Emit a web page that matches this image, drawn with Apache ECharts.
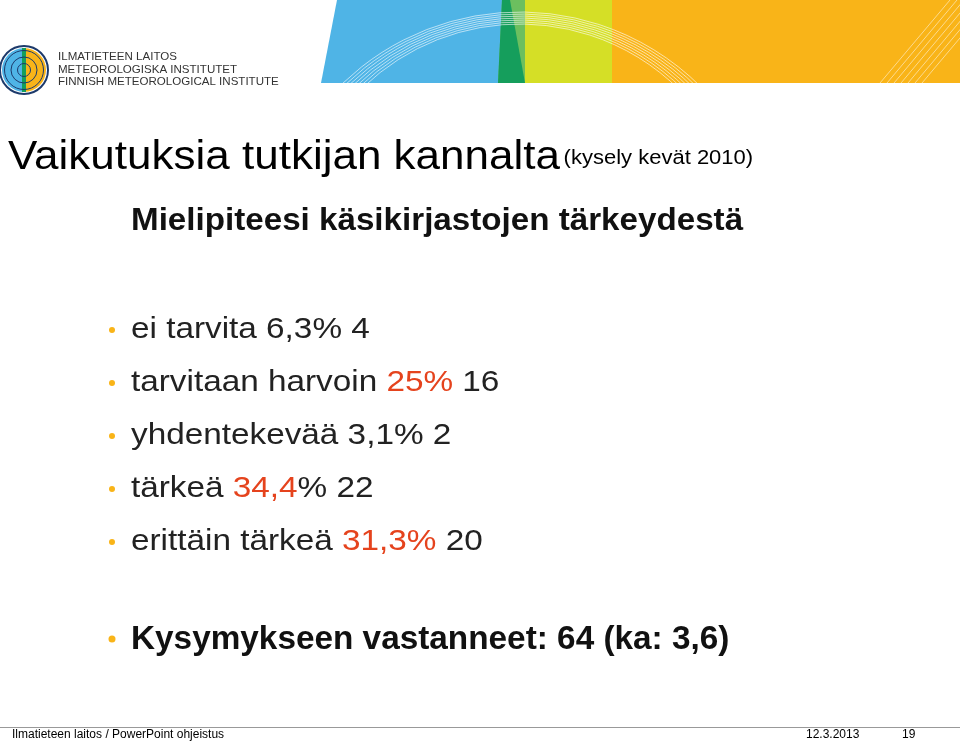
<!DOCTYPE html>
<html><head><meta charset="utf-8">
<script src="https://cdn.jsdelivr.net/npm/echarts@6/dist/echarts.min.js"></script>
<style>html,body{margin:0;padding:0;background:#fff}#c{width:960px;height:743px}</style>
</head><body><div id="c"></div>
<script>
const categories = ['ei tarvita', 'tarvitaan harvoin', 'yhdentekevää', 'tärkeä', 'erittäin tärkeä'];
const percents = ['6,3%', '25%', '3,1%', '34,4%', '31,3%'];
const counts = [4, 16, 2, 22, 20];
const redParts = ['', '25%', '', '34,4', '31,3%'];
const total = 64, mean = '3,6';

const chart = echarts.init(document.getElementById('c'));
const F = 'Liberation Sans, Arial, sans-serif';
const RED = '#e5431d', TXT = '#222';
const g = [];
// banner
g.push({type:'polygon', shape:{points:[[337,0],[502,0],[502,83],[321,83]]}, style:{fill:'#4fb4e6'}});
g.push({type:'polygon', shape:{points:[[502,0],[527,0],[525,83],[498,83]]}, style:{fill:'#6cbf5f'}});
g.push({type:'polygon', shape:{points:[[502,0],[510,0],[525,83],[498,83]]}, style:{fill:'#159e5c'}});
g.push({type:'rect', shape:{x:525,y:0,width:88,height:83}, style:{fill:'#d5df26'}});
g.push({type:'rect', shape:{x:612,y:0,width:348,height:83}, style:{fill:'#f9b418'}});
const clip = {type:'rect',shape:{x:320,y:0,width:640,height:83}};
for (let i=0;i<7;i++){
  g.push({type:'arc', shape:{cx:520, cy:250+i*3, r:226+i*5, startAngle:Math.PI*1.1, endAngle:Math.PI*1.9}, style:{stroke:'rgba(255,255,255,0.6)', lineWidth:1, fill:null}, clipPath:clip});
  g.push({type:'line', shape:{x1:880+i*7,y1:83,x2:950+i*7,y2:0}, style:{stroke:'rgba(255,255,255,0.5)', lineWidth:1}});
}
// logo
g.push({type:'circle', shape:{cx:24,cy:70,r:24}, style:{fill:'#fff', stroke:'#1d3a6b', lineWidth:2}});
g.push({type:'sector', shape:{cx:24,cy:70,r:22,startAngle:Math.PI/2,endAngle:Math.PI*1.5}, style:{fill:'#4fb4e6'}});
g.push({type:'sector', shape:{cx:24,cy:70,r:22,startAngle:-Math.PI/2,endAngle:Math.PI/2}, style:{fill:'#f9b418'}});
g.push({type:'rect', shape:{x:22,y:48,width:4,height:44}, style:{fill:'#159e5c'}});
for (let i=1;i<=3;i++){ g.push({type:'circle', shape:{cx:24,cy:70,r:i*6.5}, style:{fill:null, stroke:'#1d3a6b', lineWidth:1}}); }
const logoT = ['ILMATIETEEN LAITOS','METEOROLOGISKA INSTITUTET','FINNISH METEOROLOGICAL INSTITUTE'];
logoT.forEach((t,i)=>g.push({type:'text', x:58, y:52+i*12.5, scaleX:1.1, style:{text:t, font:'10.5px '+F, fill:'#333'}}));
// title
g.push({type:'text', x:8, y:138, scaleX:1.1, style:{text:'{a|Vaikutuksia tutkijan kannalta} {b|(kysely kevät 2010)}', rich:{a:{font:'40px '+F, fill:'#000'}, b:{font:'20px '+F, fill:'#000'}}}});
g.push({type:'text', x:131, y:206, scaleX:1.07, style:{text:'Mielipiteesi käsikirjastojen tärkeydestä', font:'bold 31px '+F, fill:'#111'}});
// items
categories.forEach((c,i)=>{
  const y = 315 + i*53;
  const p = percents[i], r = redParts[i];
  let txt;
  if (r === '') txt = '{n|'+c+' '+p+' '+counts[i]+'}';
  else txt = '{n|'+c+' }{r|'+r+'}{n|'+p.slice(r.length)+' '+counts[i]+'}';
  g.push({type:'circle', shape:{cx:112, cy:y+15, r:3}, style:{fill:'#f9b418'}});
  g.push({type:'text', x:131, y:y, scaleX:1.11, style:{text:txt, rich:{n:{font:'30px '+F, fill:TXT}, r:{font:'30px '+F, fill:RED}}}});
});
g.push({type:'circle', shape:{cx:112, cy:639, r:3.5}, style:{fill:'#f9b418'}});
g.push({type:'text', x:131, y:623, scaleX:1.01, style:{text:'Kysymykseen vastanneet: '+total+' (ka: '+mean+')', font:'bold 33px '+F, fill:'#111'}});
// footer
g.push({type:'rect', shape:{x:0,y:727,width:960,height:1}, style:{fill:'#999'}});
g.push({type:'text', x:12, y:729, style:{text:'Ilmatieteen laitos / PowerPoint ohjeistus', font:'12px '+F, fill:'#000'}});
g.push({type:'text', x:806, y:729, style:{text:'12.3.2013', font:'12px '+F, fill:'#000'}});
g.push({type:'text', x:902, y:729, style:{text:'19', font:'12px '+F, fill:'#000'}});
chart.setOption({animation:false, graphic:g});
</script></body></html>
